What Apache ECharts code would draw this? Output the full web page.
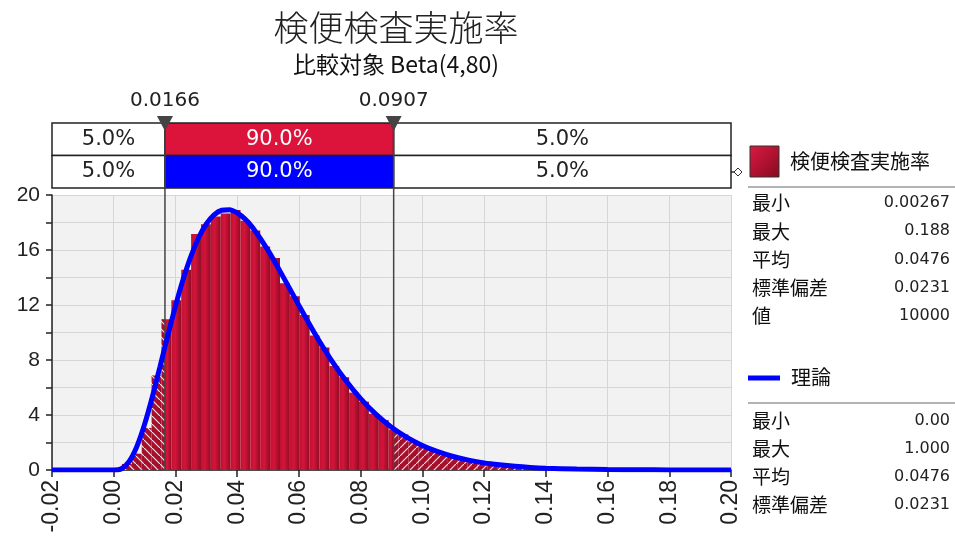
<!DOCTYPE html>
<html>
<head>
<meta charset="utf-8">
<script src="https://cdn.jsdelivr.net/npm/echarts@6/dist/echarts.min.js"></script>
<style>
html, body { margin: 0; padding: 0; background: #fff; }
#main { width: 955px; height: 551px; }
</style>
</head>
<body>
<div id="main"></div>
<script>
// histogram bins (equal width, starting at the sample minimum)
var binStart = 0.00267;
var binWidth = 0.0032;
var histValues = [0.44, 1.19, 3.06, 6.88, 10.97, 12.34, 14.56, 17.16, 17.88, 18.44,
  18.66, 18.91, 18.13, 17.41, 16.25, 15.41, 13.59, 12.63, 11.28, 9.78,
  8.91, 7.56, 6.75, 5.63, 4.97, 4.09, 3.63, 2.94, 2.59, 2.06,
  1.75, 1.50, 1.16, 1.03, 0.78, 0.69, 0.53, 0.44, 0.34, 0.31,
  0.22, 0.19, 0.16, 0.13, 0.09, 0.09, 0.06, 0.06, 0.03, 0.06,
  0.03, 0.03, 0.00, 0.03, 0.00, 0.00, 0.03, 0.03];

// theoretical Beta(4,80) curve
var theoryX = [-0.02, -0.01, 0, 0.0025, 0.005, 0.0075, 0.01, 0.0125, 0.015, 0.0175,
  0.02, 0.0225, 0.025, 0.0275, 0.03, 0.0325, 0.035, 0.0375, 0.04, 0.0425,
  0.045, 0.05, 0.055, 0.06, 0.065, 0.07, 0.075, 0.08, 0.085, 0.09,
  0.095, 0.10, 0.105, 0.11, 0.115, 0.12, 0.125, 0.13, 0.135, 0.14,
  0.15, 0.16, 0.17, 0.18, 0.19, 0.20];
var theoryY = [0, 0, 0, 0.09, 0.62, 1.71, 3.32, 5.31, 7.52, 9.76,
  11.92, 13.87, 15.54, 16.89, 17.89, 18.55, 18.89, 18.93, 18.70, 18.26,
  17.63, 15.97, 14.01, 11.97, 9.98, 8.16, 6.56, 5.19, 4.04, 3.11,
  2.37, 1.78, 1.33, 0.98, 0.72, 0.52, 0.38, 0.27, 0.19, 0.135,
  0.066, 0.031, 0.015, 0.007, 0.003, 0.001];

var pctLow = 0.0166;
var pctHigh = 0.0907;
var bandEdges = [-0.02, pctLow, pctHigh, 0.20];
var bandLabels = ['5.0%', '90.0%', '5.0%'];
var bandColors = ['#dc143c', '#0000ff'];

var yTicks = [0, 4, 8, 12, 16, 20];

var statNames = ['最小', '最大', '平均', '標準偏差', '値'];
var sampleStats = ['0.00267', '0.188', '0.0476', '0.0231', '10000'];
var theoryStats = ['0.00', '1.000', '0.0476', '0.0231'];

var CJK = '"Noto Sans CJK JP", sans-serif';
var NUM = '"DejaVu Sans", sans-serif';

function makeHatch(up) {
  var c = document.createElement('canvas');
  c.width = 8; c.height = 8;
  var g = c.getContext('2d');
  g.fillStyle = '#a50f2b';
  g.fillRect(0, 0, 8, 8);
  g.strokeStyle = 'rgba(255,255,255,0.85)';
  g.lineWidth = 1.2;
  g.beginPath();
  if (up) { g.moveTo(-1, 9); g.lineTo(9, -1); }
  else { g.moveTo(-1, -1); g.lineTo(9, 9); }
  g.stroke();
  return { image: c, repeat: 'repeat' };
}
var hatchLeft = makeHatch(false);
var hatchRight = makeHatch(true);

var histData = histValues.map(function (v, i) {
  return [binStart + i * binWidth, binStart + (i + 1) * binWidth, v];
});

function renderHist(params, api) {
  var x0 = api.value(0), x1 = api.value(1), h = api.value(2);
  var parts = [];
  if (h <= 0) return { type: 'group', children: parts };
  function piece(a, b, fill) {
    if (b <= a) return;
    var p0 = api.coord([a, h]), p1 = api.coord([b, 0]);
    parts.push({
      type: 'rect',
      shape: { x: p0[0], y: p0[1], width: p1[0] - p0[0], height: p1[1] - p0[1] },
      style: { fill: fill }
    });
  }
  piece(x0, Math.min(x1, pctLow), hatchLeft);
  piece(Math.max(x0, pctLow), Math.min(x1, pctHigh),
    new echarts.graphic.LinearGradient(0, 0, 1, 0, [
      { offset: 0, color: '#c01130' },
      { offset: 0.4, color: '#d3143b' },
      { offset: 1, color: '#900c24' }
    ]));
  piece(Math.max(x0, pctHigh), x1, hatchRight);
  return { type: 'group', children: parts };
}

function renderBand(params, api) {
  var k = api.value(0), r = api.value(1);
  var p0 = api.coord([bandEdges[k], r]), p1 = api.coord([bandEdges[k + 1], r + 1]);
  return {
    type: 'rect',
    shape: { x: p0[0], y: p0[1], width: p1[0] - p0[0], height: p1[1] - p0[1] },
    style: { fill: k === 1 ? bandColors[r] : '#fff', stroke: '#222', lineWidth: 1.5 },
    textContent: {
      style: { text: bandLabels[k], fill: k === 1 ? '#fff' : '#222', font: '21px ' + NUM }
    },
    textConfig: { position: 'inside' }
  };
}

function renderMarker(params, api) {
  var v = api.value(0);
  var pb = api.coord([v, 0]), pt = api.coord([v, 20]);
  var top = pt[1] - 72;
  return {
    type: 'group',
    children: [
      { type: 'line', shape: { x1: pb[0], y1: top, x2: pb[0], y2: pb[1] },
        style: { stroke: '#444', lineWidth: 1.5 } },
      { type: 'polygon', shape: { points: [[pb[0] - 8, top - 7], [pb[0] + 8, top - 7], [pb[0], top + 8]] },
        style: { fill: '#444' } },
      { type: 'text', x: pb[0], y: top - 22,
        style: { text: v.toFixed(4), font: '20px ' + NUM, fill: '#222', align: 'center', verticalAlign: 'middle' } }
    ]
  };
}

var bandData = [];
for (var r = 0; r < 2; r++) for (var k = 0; k < 3; k++) bandData.push([k, r]);

var graphics = [
  { type: 'rect', shape: { x: 750, y: 146, width: 29, height: 31 },
    style: { fill: new echarts.graphic.LinearGradient(0, 0, 1, 1, [
      { offset: 0, color: '#dc1a42' }, { offset: 1, color: '#860a20' }]), stroke: '#333', lineWidth: 1 } },
  { type: 'text', x: 790, y: 161, style: { text: '検便検査実施率', font: '20px ' + CJK, fill: '#111', verticalAlign: 'middle' } },
  { type: 'line', shape: { x1: 748, y1: 187, x2: 955, y2: 187 }, style: { stroke: '#999', lineWidth: 1.5 } },
  { type: 'line', shape: { x1: 748, y1: 378, x2: 780, y2: 378 }, style: { stroke: '#0000ff', lineWidth: 5 } },
  { type: 'text', x: 791, y: 377, style: { text: '理論', font: '20px ' + CJK, fill: '#111', verticalAlign: 'middle' } },
  { type: 'line', shape: { x1: 748, y1: 403, x2: 955, y2: 403 }, style: { stroke: '#999', lineWidth: 1.5 } },
  { type: 'line', shape: { x1: 722, y1: 172, x2: 738, y2: 172 }, style: { stroke: '#333', lineWidth: 1.5 } },
  { type: 'polygon', shape: { points: [[734, 172], [738, 168], [742, 172], [738, 176]] }, style: { fill: '#fff', stroke: '#333', lineWidth: 1 } }
];
sampleStats.forEach(function (s, i) {
  var y = 203 + i * 28.3;
  graphics.push({ type: 'text', x: 752, y: y, style: { text: statNames[i], font: '19px ' + CJK, fill: '#111', verticalAlign: 'middle' } });
  graphics.push({ type: 'text', x: 950, y: y, style: { text: s, font: '16px ' + NUM, fill: '#222', align: 'right', verticalAlign: 'middle' } });
});
theoryStats.forEach(function (s, i) {
  var y = 421 + i * 28;
  graphics.push({ type: 'text', x: 752, y: y, style: { text: statNames[i], font: '19px ' + CJK, fill: '#111', verticalAlign: 'middle' } });
  graphics.push({ type: 'text', x: 950, y: y, style: { text: s, font: '16px ' + NUM, fill: '#222', align: 'right', verticalAlign: 'middle' } });
});

var chart = echarts.init(document.getElementById('main'));
chart.setOption({
  animation: false,
  title: {
    text: '検便検査実施率',
    subtext: '比較対象 Beta(4,80)',
    left: 391, top: 5, textAlign: 'center', itemGap: 8,
    textStyle: { fontFamily: CJK, fontSize: 35, fontWeight: 300, color: '#222' },
    subtextStyle: { fontFamily: CJK, fontSize: 23, color: '#111' }
  },
  grid: [
    { left: 52, right: 224, top: 195, bottom: 81, show: true, backgroundColor: '#f2f2f2', borderWidth: 0 },
    { left: 52, right: 224, top: 123, height: 65 }
  ],
  xAxis: [
    { type: 'value', gridIndex: 0, min: -0.02, max: 0.20, interval: 0.02,
      axisLine: { onZero: false, lineStyle: { color: '#222', width: 1.5 } },
      axisTick: { show: true, length: 7, lineStyle: { color: '#222', width: 1.5 } },
      axisLabel: { rotate: 90, margin: 10, fontSize: 23, fontFamily: '"Liberation Sans", sans-serif', color: '#222',
        formatter: function (v) { return v.toFixed(2); } },
      splitLine: { show: true, lineStyle: { color: '#d6d6d6', width: 1 } } },
    { type: 'value', gridIndex: 1, min: -0.02, max: 0.20, show: false }
  ],
  yAxis: [
    { type: 'value', gridIndex: 0, min: 0, max: 20, interval: 2,
      axisLine: { show: true, onZero: false, lineStyle: { color: '#222', width: 1.5 } },
      axisTick: { show: true, length: 6, lineStyle: { color: '#222', width: 1.5 } },
      axisLabel: { margin: 12, fontSize: 21, fontFamily: '"Liberation Sans", sans-serif', color: '#222',
        formatter: function (v) { return yTicks.indexOf(v) >= 0 ? String(v) : ''; } },
      splitLine: { show: true, lineStyle: { color: '#d6d6d6', width: 1 } } },
    { type: 'value', gridIndex: 1, min: 0, max: 2, inverse: true, show: false }
  ],
  series: [
    { type: 'custom', name: '検便検査実施率', xAxisIndex: 0, yAxisIndex: 0, renderItem: renderHist,
      data: histData, encode: { x: [0, 1], y: 2 }, z: 2 },
    { type: 'custom', xAxisIndex: 0, yAxisIndex: 0, renderItem: renderMarker, clip: false,
      data: [[pctLow], [pctHigh]], encode: { x: 0 }, z: 3 },
    { type: 'line', name: '理論', xAxisIndex: 0, yAxisIndex: 0, smooth: 0.3,
      data: theoryX.map(function (x, i) { return [x, theoryY[i]]; }),
      showSymbol: false, lineStyle: { color: '#0000ff', width: 5 }, z: 4 },
    { type: 'custom', xAxisIndex: 1, yAxisIndex: 1, renderItem: renderBand,
      data: bandData, z: 2 }
  ],
  graphic: graphics
});
</script>
</body>
</html>
